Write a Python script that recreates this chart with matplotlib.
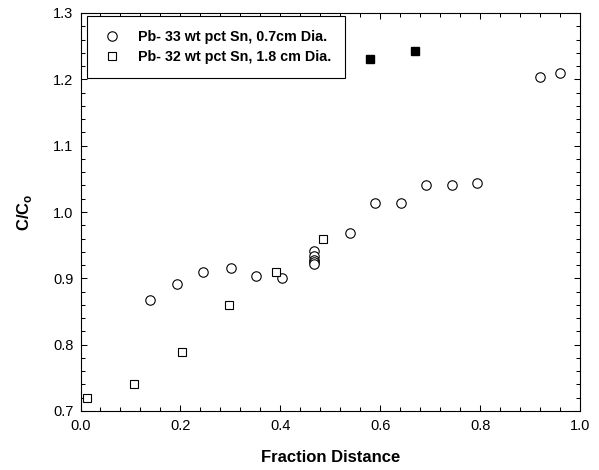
import matplotlib
matplotlib.use("Agg")
import matplotlib.pyplot as plt
from matplotlib.ticker import MultipleLocator

plt.rcParams["font.family"] = ["Liberation Sans", "DejaVu Sans"]

# Pb-33 wt pct Sn, 0.7 cm dia
x_33 = [0.139, 0.193, 0.246, 0.301, 0.352, 0.404, 0.468, 0.468, 0.468, 0.468,
        0.468, 0.540, 0.590, 0.641, 0.692, 0.743, 0.794, 0.919, 0.959]
y_33 = [0.868, 0.892, 0.910, 0.916, 0.904, 0.901, 0.941, 0.933, 0.928, 0.925,
        0.922, 0.968, 1.013, 1.013, 1.040, 1.040, 1.043, 1.203, 1.209]

# Pb-32 wt pct Sn, 1.8 cm dia
x_32 = [0.014, 0.107, 0.203, 0.297, 0.391, 0.486]
y_32 = [0.719, 0.740, 0.789, 0.860, 0.910, 0.960]
x_32_filled = [0.580, 0.669]
y_32_filled = [1.230, 1.242]

fig = plt.figure(figsize=(5.99, 4.70), dpi=100)
ax = fig.add_axes([80.5 / 599, 59 / 470, 499.5 / 599, 398 / 470])

ax.plot(x_33, y_33, "o", ms=6.8, mfc="white", mec="black", mew=0.8,
        linestyle="none", label="Pb- 33 wt pct Sn, 0.7cm Dia.")
ax.plot(x_32, y_32, "s", ms=5.6, mfc="white", mec="black", mew=0.8,
        linestyle="none", label="Pb- 32 wt pct Sn, 1.8 cm Dia.")
ax.plot(x_32_filled, y_32_filled, "s", ms=5.8, mfc="black", mec="black",
        linestyle="none")

ax.set_xlim(0, 1.0)
ax.set_ylim(0.7, 1.3)
ax.xaxis.set_major_locator(MultipleLocator(0.2))
ax.xaxis.set_minor_locator(MultipleLocator(0.04))
ax.yaxis.set_major_locator(MultipleLocator(0.1))
ax.yaxis.set_minor_locator(MultipleLocator(0.02))
ax.xaxis.set_major_formatter(plt.FormatStrFormatter("%.1f"))
ax.yaxis.set_major_formatter(plt.FormatStrFormatter("%.1f"))
ax.tick_params(which="both", direction="in", top=True, right=True,
               labelsize=10.5, width=0.75)
ax.tick_params(which="major", length=4.5)
ax.tick_params(which="minor", length=3)
ax.tick_params(axis="x", which="major", pad=6)
ax.tick_params(axis="y", which="major", pad=5)
for s in ax.spines.values():
    s.set_linewidth(0.8)

ax.set_xlabel("Fraction Distance", fontsize=12, fontweight="bold", labelpad=12)
ax.set_ylabel("C/C$_\\mathregular{o}$", fontsize=12, fontweight="bold", labelpad=14)

leg = ax.legend(loc="upper left", bbox_to_anchor=(0.013, 0.9925), borderaxespad=0,
                fancybox=False, edgecolor="black", framealpha=1, borderpad=0.95,
                handletextpad=1.0, labelspacing=0.45, handlelength=1.6,
                prop={"size": 10.3, "weight": "bold"})
leg.get_frame().set_linewidth(0.8)

fig.savefig("out.png", dpi=100)
